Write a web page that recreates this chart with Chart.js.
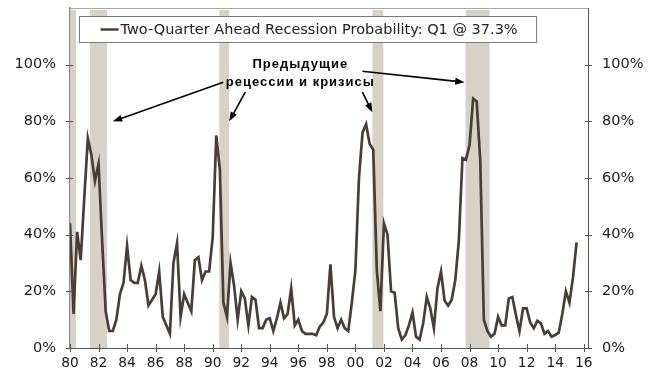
<!DOCTYPE html>
<html>
<head>
<meta charset="utf-8">
<script src="https://cdn.jsdelivr.net/npm/chart.js@4.4.0/dist/chart.umd.min.js"></script>
<style>
  html, body { margin: 0; padding: 0; background: #fff; }
  #wrap { width: 650px; height: 373px; }
</style>
</head>
<body>
<div id="wrap"><canvas id="recessionChart"></canvas></div>
<script>
// quarterly series, first point = 1980 Q1
const startYear = 1980;
const probability = [
    44, 12, 41, 31,      // 1980
    53, 74, 68, 59,      // 1981
    65, 38, 13, 6,       // 1982
    6, 10, 19, 23,       // 1983
    36, 24, 23, 23,      // 1984
    29, 24, 15, 17,      // 1985
    19, 27, 11, 8,       // 1986
    5, 30, 37, 11,       // 1987
    19, 16, 13, 31,      // 1988
    32, 24, 27, 27,      // 1989
    39, 75, 63, 16,      // 1990
    11, 30, 22, 10,      // 1991
    20, 17.5, 8, 18,     // 1992
    17, 7, 7, 10,        // 1993
    10.5, 6, 10.5, 16,   // 1994
    10.5, 12, 21, 8,     // 1995
    10, 6, 5, 5,         // 1996
    5, 4.5, 7.5, 9,      // 1997
    12, 29.5, 11, 7,     // 1998
    10, 7, 6, 16,        // 1999
    27.5, 60, 76, 79,    // 2000
    72, 70, 27.5, 13,    // 2001
    44, 40, 20, 19.5,    // 2002
    7, 3, 4.5, 8,        // 2003
    12.5, 4, 3, 8.7,     // 2004
    18, 14, 7, 21,       // 2005
    27, 16.7, 15, 17,    // 2006
    24, 38, 67, 66.5,    // 2007
    71.6, 88, 87, 66,    // 2008
    10, 6, 4, 5,         // 2009
    11, 8, 8, 17.5,      // 2010
    18, 11.6, 6, 14,     // 2011
    14, 9, 7, 9.6,       // 2012
    8.7, 5, 6, 4,        // 2013
    4.6, 5.4, 12, 20,    // 2014
    16, 25, 37.3         // 2015
];

// recession periods (start, end) in decimal years
const recessions = [
    [1980.05, 1980.42],
    [1981.40, 1982.60],
    [1990.46, 1991.16],
    [2001.19, 2001.96],
    [2007.72, 2009.40]
];

const yTicks = [0, 20, 40, 60, 80, 100];
const legendLabel = 'Two-Quarter Ahead Recession Probability: Q1 @ 37.3%';
const noteLines = ['Предыдущие', 'рецессии и кризисы'];

// annotation anchors in data units (year, percent)
const noteAt = [1996.14, 100.2];
const arrows = [
    { from: [1990.74, 93.8], to: [1983.0, 80.0] },
    { from: [1992.28, 90.3], to: [1991.16, 80.0] },
    { from: [2000.49, 90.3], to: [2001.19, 83.2] },
    { from: [2000.49, 97.7], to: [2007.65, 93.8] }
];

const lineColor = '#483e37';
const shadeColor = '#d6d2c7';

const points = probability.map((v, i) => ({ x: startYear + i * 0.25, y: v }));

function drawArrow(ctx, x0, y0, x1, y1) {
    const ang = Math.atan2(y1 - y0, x1 - x0);
    const head = 10;
    ctx.beginPath();
    ctx.moveTo(x0, y0);
    ctx.lineTo(x1 - Math.cos(ang) * head * 0.8, y1 - Math.sin(ang) * head * 0.8);
    ctx.stroke();
    ctx.beginPath();
    ctx.moveTo(x1, y1);
    ctx.lineTo(x1 - head * Math.cos(ang - 0.35), y1 - head * Math.sin(ang - 0.35));
    ctx.lineTo(x1 - head * Math.cos(ang + 0.35), y1 - head * Math.sin(ang + 0.35));
    ctx.closePath();
    ctx.fill();
}

// y axes: no extra padding so the plot runs up to the top line
function fitY(width) {
    return s => {
        s.width = width;
        s.paddingTop = 0;
        s.paddingBottom = 0;
    };
}

const decorPlugin = {
    id: 'decor',
    beforeDatasetsDraw(chart) {
        const { ctx, chartArea: a, scales: { x } } = chart;
        ctx.save();
        ctx.fillStyle = shadeColor;
        recessions.forEach(([s, e]) => {
            const x0 = x.getPixelForValue(s);
            const x1 = x.getPixelForValue(e);
            ctx.fillRect(x0, a.top + 2, x1 - x0, a.bottom - a.top - 2);
        });
        ctx.restore();
    },
    afterDatasetsDraw(chart) {
        const { ctx, chartArea: a, scales: { x, y } } = chart;
        ctx.save();

        // top frame line
        ctx.strokeStyle = '#a8a8a8';
        ctx.lineWidth = 1;
        ctx.beginPath();
        ctx.moveTo(a.left, a.top + 0.5);
        ctx.lineTo(a.right, a.top + 0.5);
        ctx.stroke();

        // crossing tick marks
        ctx.strokeStyle = '#555';
        ctx.beginPath();
        x.ticks.forEach(t => {
            const px = Math.round(x.getPixelForValue(t.value)) + 0.5;
            ctx.moveTo(px, a.bottom - 4);
            ctx.lineTo(px, a.bottom + 4);
        });
        yTicks.forEach(v => {
            const py = Math.round(y.getPixelForValue(v)) + 0.5;
            ctx.moveTo(a.left - 4, py);
            ctx.lineTo(a.left + 3, py);
            ctx.moveTo(a.right - 3, py);
            ctx.lineTo(a.right + 4, py);
        });
        ctx.stroke();

        // legend box
        ctx.font = '14.5px "DejaVu Sans"';
        const tw = ctx.measureText(legendLabel).width;
        const bx = a.left + 9.5, by = a.top + 8.5;
        ctx.fillStyle = '#fff';
        ctx.fillRect(bx, by, tw + 60, 26);
        ctx.strokeStyle = '#7a7a7a';
        ctx.strokeRect(bx, by, tw + 60, 26);
        ctx.strokeStyle = lineColor;
        ctx.lineWidth = 2.5;
        ctx.beginPath();
        ctx.moveTo(bx + 21, by + 13);
        ctx.lineTo(bx + 39, by + 13);
        ctx.stroke();
        ctx.fillStyle = '#222';
        ctx.textBaseline = 'middle';
        ctx.fillText(legendLabel, bx + 41, by + 13.5);

        // note text
        ctx.font = 'bold 13px "Liberation Sans"';
        ctx.letterSpacing = '1px';
        ctx.textAlign = 'center';
        ctx.fillStyle = '#000';
        const nx = x.getPixelForValue(noteAt[0]);
        const ny = y.getPixelForValue(noteAt[1]);
        noteLines.forEach((line, i) => ctx.fillText(line, nx, ny + i * 18));

        // arrows
        ctx.strokeStyle = '#000';
        ctx.fillStyle = '#000';
        ctx.lineWidth = 1.6;
        arrows.forEach(ar => {
            drawArrow(ctx,
                x.getPixelForValue(ar.from[0]), y.getPixelForValue(ar.from[1]),
                x.getPixelForValue(ar.to[0]), y.getPixelForValue(ar.to[1]));
        });
        ctx.restore();
    }
};

const ctx = document.getElementById('recessionChart').getContext('2d');

new Chart(ctx, {
    type: 'line',
    data: {
        datasets: [{
            label: legendLabel,
            data: points,
            borderColor: lineColor,
            borderWidth: 2.7,
            pointRadius: 0,
            tension: 0,
            yAxisID: 'y'
        }]
    },
    options: {
        responsive: true,
        maintainAspectRatio: false,
        animation: false,
        layout: { padding: { top: 8, left: 0, right: 0, bottom: 0 } },
        plugins: {
            legend: { display: false },
            tooltip: { enabled: false }
        },
        scales: {
            x: {
                type: 'linear',
                min: 1980,
                max: 2016.3,
                grid: { display: false, drawTicks: false },
                border: { color: '#555', width: 1 },
                afterFit: s => { s.height = 25; },
                ticks: {
                    stepSize: 2,
                    includeBounds: false,
                    autoSkip: false,
                    maxRotation: 0,
                    padding: 7,
                    color: '#1a1a1a',
                    font: { family: 'DejaVu Sans', size: 13.8 },
                    callback: v => String(v % 100).padStart(2, '0')
                }
            },
            y: {
                position: 'left',
                min: 0,
                max: 120,
                grid: { display: false, drawTicks: false },
                border: { color: '#8a8a8a', width: 1.5 },
                afterFit: fitY(70),
                ticks: {
                    stepSize: 20,
                    padding: 14,
                    color: '#1a1a1a',
                    font: { family: 'DejaVu Sans', size: 14.5 },
                    callback: v => (v > 100 ? '' : v + '%')
                }
            },
            y2: {
                position: 'right',
                min: 0,
                max: 120,
                grid: { display: false, drawTicks: false },
                border: { color: '#555', width: 1 },
                afterFit: fitY(62),
                ticks: {
                    stepSize: 20,
                    padding: 14,
                    color: '#1a1a1a',
                    font: { family: 'DejaVu Sans', size: 14.5 },
                    callback: v => (v > 100 ? '' : v + '%')
                }
            }
        }
    },
    plugins: [decorPlugin]
});
</script>
</body>
</html>
